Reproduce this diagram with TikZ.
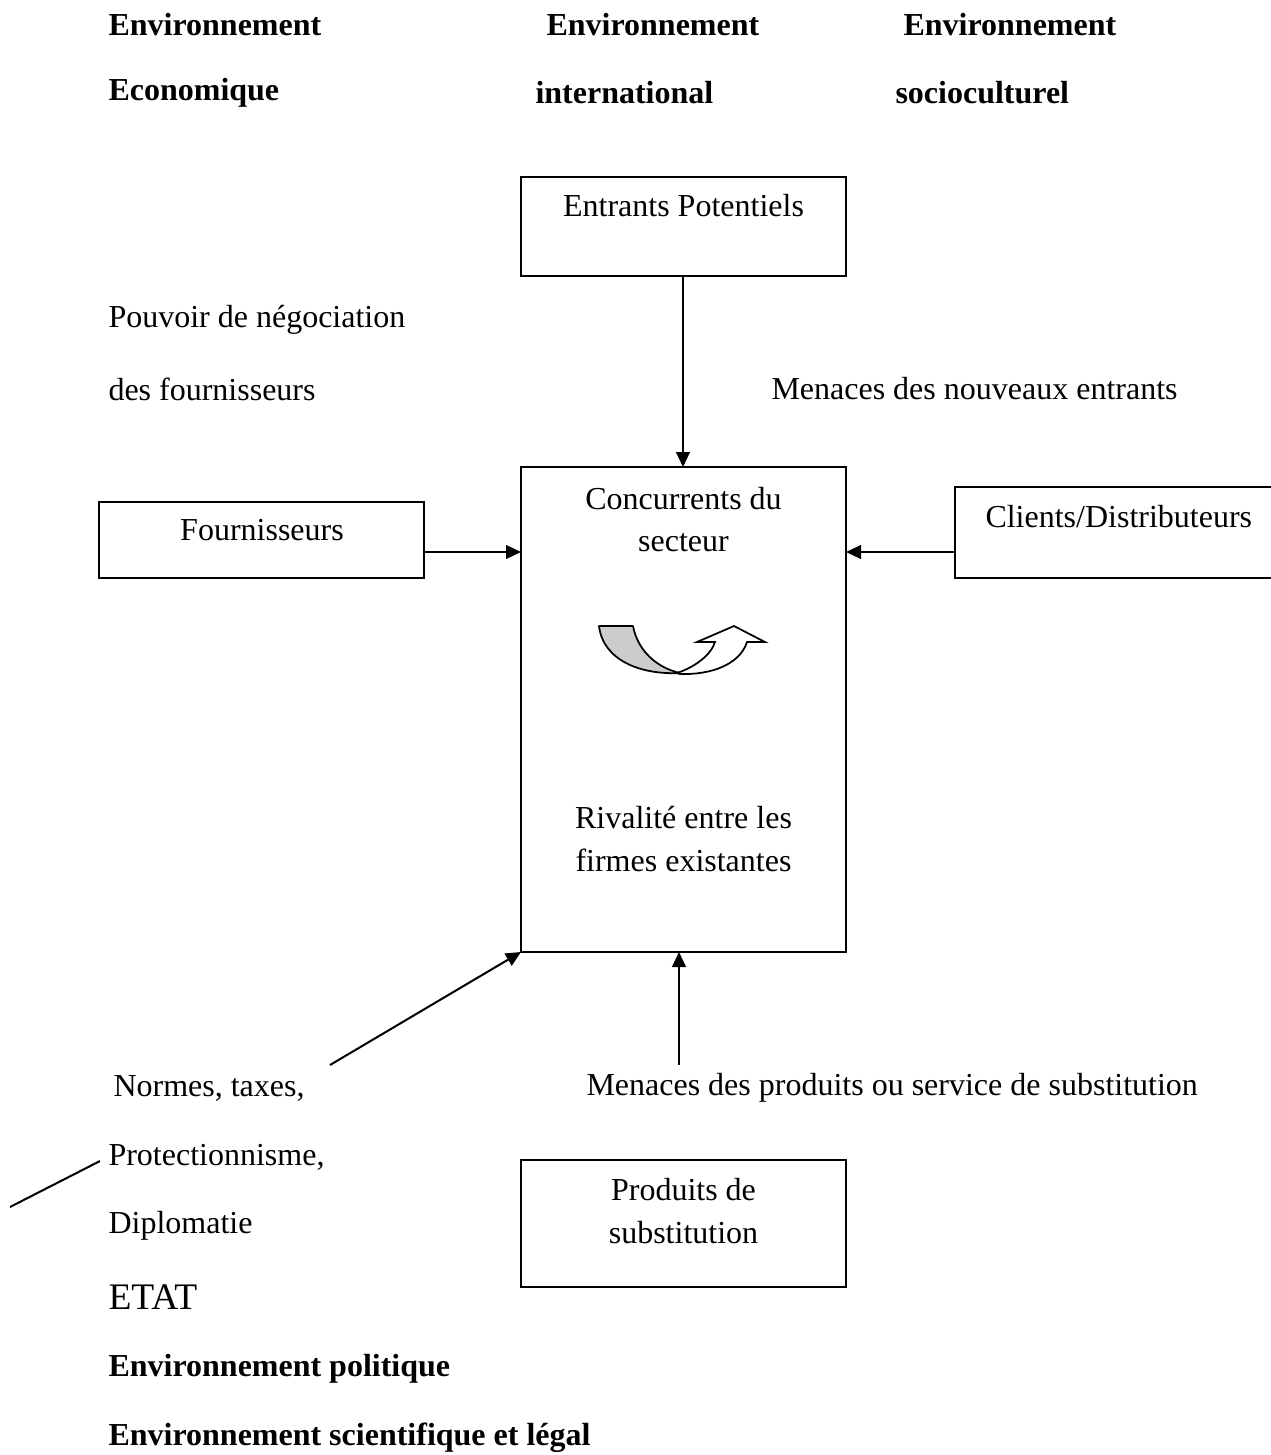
\documentclass[tikz,border=0pt]{standalone}
\usepackage{fontspec}
\setmainfont{Liberation Serif}
\usetikzlibrary{arrows.meta}
\begin{document}
\begin{tikzpicture}[x=0.4pt,y=-0.4pt,
  box/.style={draw,line width=0.8pt,inner sep=0pt},
  lbl/.style={anchor=west,inner sep=0pt,font=\fontsize{12.8}{15}\selectfont},
  ctr/.style={anchor=center,inner sep=0pt,font=\fontsize{12.8}{15}\selectfont},
  head/.style={anchor=west,inner sep=0pt,font=\fontsize{12.8}{15}\selectfont\bfseries},
  conn/.style={line width=0.8pt,-{Triangle[length=6pt,width=5.5pt]}},
  plain/.style={line width=0.8pt}]
\useasboundingbox (0,0) rectangle (1271,1455);
% header labels
\node[head] (h1a) at (108,25) {Environnement};
\node[head] (h1b) at (108,93) {Economique};
\node[head] (h2a) at (546,25) {Environnement};
\node[head] (h2b) at (535,93) {international};
\node[head] (h3a) at (903,25) {Environnement};
\node[head] (h3b) at (895,93) {socioculturel};
% boxes
\draw[box] (521,177) rectangle (846,276);
\node[ctr] (entr) at (683.5,206) {Entrants Potentiels};
\coordinate (entrB) at (683,276);
\draw[box] (521,467) rectangle (846,952);
\coordinate (cT) at (683,467);
\coordinate (cL) at (521,552);
\coordinate (cR) at (846,552);
\coordinate (cB) at (679,952);
\coordinate (cBL) at (521,952);
\node[ctr] (conc1) at (683.5,499) {Concurrents du};
\node[ctr] (conc2) at (683.5,543) {secteur};
\node[ctr] (riv1) at (683.5,818) {Rivalité entre les};
\node[ctr] (riv2) at (683.5,860) {firmes existantes};
\draw[box] (99,502) rectangle (424,578);
\node[ctr] (four) at (262,530) {Fournisseurs};
\coordinate (fourR) at (424,552);
\draw[box] (955,487) rectangle (1272,578);
\node[lbl] (cli) at (985,517) {Clients/Distributeurs};
\coordinate (cliL) at (955,552);
\draw[box] (521,1160) rectangle (846,1287);
\node[ctr] (prod1) at (683.5,1190) {Produits de};
\node[ctr] (prod2) at (683.5,1233) {substitution};
% free labels
\node[lbl] (pouv1) at (108,320) {Pouvoir de négociation};
\node[lbl] (pouv2) at (108,389) {des fournisseurs};
\node[lbl] (menN) at (771,389) {Menaces des nouveaux entrants};
\node[lbl] (norm) at (113,1088) {Normes, taxes,};
\node[lbl] (menS) at (586,1088) {Menaces des produits ou service de substitution};
\node[lbl] (prot) at (108,1157) {Protectionnisme,};
\node[lbl] (dipl) at (108,1226) {Diplomatie};
\node[anchor=west,inner sep=0pt,font=\fontsize{15}{18}\selectfont] (etat) at (108,1297) {ETAT};
\node[head] (pol) at (108,1369) {Environnement politique};
\node[head] (sci) at (108,1438) {Environnement scientifique et légal};
% connectors
\coordinate (normE) at (330,1065);
\coordinate (subT) at (679,1065);
\coordinate (protA) at (100,1161);
\coordinate (protB) at (10,1207);
\draw[conn] (entrB) -- (cT);
\draw[conn] (fourR) -- (cL);
\draw[conn] (cliL) -- (cR);
\draw[conn] (subT) -- (cB);
\draw[conn] (normE) -- (cBL);
\draw[plain] (protA) -- (protB);
% rivalry icon: curved U-turn arrow
\draw[line width=0.7pt,fill=black!20,line join=round]
  (599,626) -- (633,626) .. controls (638,652) and (658,668) .. (680,673)
  .. controls (640,675) and (603,660) .. (599,626) -- cycle;
\draw[line width=0.7pt,fill=white,line join=miter]
  (677,673) .. controls (695,667) and (711,655) .. (715,642)
  -- (697,642) -- (734,626) -- (765,642) -- (747,642)
  .. controls (740,664) and (712,675) .. (680,674) -- cycle;
\end{tikzpicture}
\end{document}
